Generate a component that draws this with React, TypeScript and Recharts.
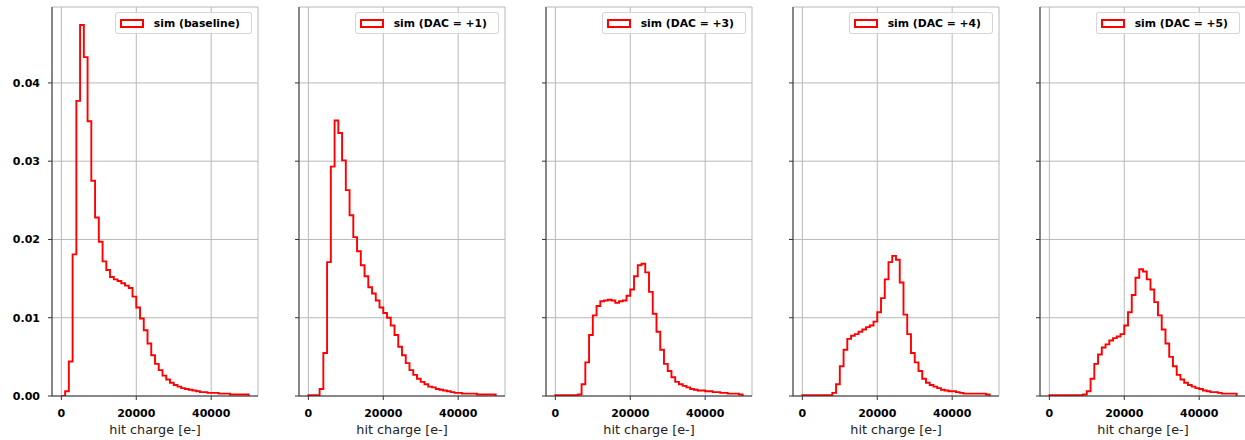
import { LineChart, Line, XAxis, YAxis, CartesianGrid, Legend, Label } from 'recharts';

// normalised hit-charge histograms, 1000 e- bins from 0 to 50000
const BIN_WIDTH = 1000;
const X_TICKS = [0, 20000, 40000];
const Y_TICKS = [0, 0.01, 0.02, 0.03, 0.04];
const LABELS = ['sim (baseline)', 'sim (DAC = +1)', 'sim (DAC = +3)', 'sim (DAC = +4)', 'sim (DAC = +5)'];

const baseline = [
  0.0000, 0.0006, 0.0044, 0.0181, 0.0377, 0.0474, 0.0433, 0.0351, 0.0275, 0.0228,
  0.0197, 0.0172, 0.0161, 0.0152, 0.0149, 0.0147, 0.0144, 0.0141, 0.0138, 0.0127,
  0.0113, 0.0099, 0.0084, 0.0067, 0.0052, 0.0041, 0.0033, 0.0026, 0.0021, 0.0017,
  0.0014, 0.0012, 0.0010, 0.0009, 0.0008, 0.0007, 0.0006, 0.0005, 0.0005, 0.0004,
  0.0004, 0.0004, 0.0003, 0.0003, 0.0003, 0.0002, 0.0002, 0.0002, 0.0002, 0.0002,
];
const dac1 = [
  0.0001, 0.0001, 0.0001, 0.0009, 0.0055, 0.0171, 0.0293, 0.0352, 0.0336, 0.0301,
  0.0263, 0.0231, 0.0203, 0.0185, 0.0167, 0.0153, 0.0139, 0.0131, 0.0122, 0.0113,
  0.0106, 0.0100, 0.0090, 0.0078, 0.0063, 0.0052, 0.0042, 0.0033, 0.0027, 0.0022,
  0.0018, 0.0015, 0.0012, 0.0011, 0.0009, 0.0008, 0.0007, 0.0006, 0.0005, 0.0004,
  0.0004, 0.0003, 0.0003, 0.0003, 0.0003, 0.0002, 0.0002, 0.0002, 0.0002, 0.0002,
];
const dac3 = [
  0.0001, 0.0001, 0.0001, 0.0001, 0.0001, 0.0001, 0.0002, 0.0015, 0.0043, 0.0078,
  0.0103, 0.0115, 0.0121, 0.0122, 0.0123, 0.0122, 0.0119, 0.0121, 0.0122, 0.0128,
  0.0136, 0.0153, 0.0167, 0.0169, 0.0158, 0.0133, 0.0105, 0.0082, 0.0059, 0.0041,
  0.0032, 0.0024, 0.0018, 0.0015, 0.0013, 0.0011, 0.0009, 0.0008, 0.0007, 0.0007,
  0.0006, 0.0006, 0.0005, 0.0005, 0.0004, 0.0004, 0.0003, 0.0003, 0.0003, 0.0002,
];
const dac4 = [
  0.0001, 0.0001, 0.0001, 0.0001, 0.0001, 0.0001, 0.0001, 0.0001, 0.0004, 0.0015,
  0.0038, 0.0059, 0.0073, 0.0077, 0.0079, 0.0082, 0.0085, 0.0088, 0.0090, 0.0095,
  0.0107, 0.0125, 0.0149, 0.0171, 0.0179, 0.0174, 0.0145, 0.0104, 0.0079, 0.0055,
  0.0043, 0.0032, 0.0022, 0.0017, 0.0014, 0.0012, 0.0010, 0.0008, 0.0007, 0.0006,
  0.0006, 0.0005, 0.0004, 0.0003, 0.0003, 0.0003, 0.0003, 0.0003, 0.0003, 0.0002,
];
const dac5 = [
  0.0001, 0.0001, 0.0001, 0.0001, 0.0001, 0.0001, 0.0001, 0.0001, 0.0001, 0.0002,
  0.0006, 0.0022, 0.0041, 0.0053, 0.0062, 0.0066, 0.0071, 0.0074, 0.0076, 0.0079,
  0.0090, 0.0107, 0.0129, 0.0151, 0.0162, 0.0159, 0.0149, 0.0136, 0.0120, 0.0103,
  0.0085, 0.0067, 0.0050, 0.0038, 0.0027, 0.0021, 0.0017, 0.0014, 0.0012, 0.0010,
  0.0009, 0.0007, 0.0006, 0.0005, 0.0005, 0.0004, 0.0003, 0.0003, 0.0003, 0.0003,
];

const SERIES = [baseline, dac1, dac3, dac4, dac5];

const FONT = '"DejaVu Sans", sans-serif';
const SPINE = '#333';
const X_DOMAIN: [number, number] = [-2500, 52500];
const Y_DOMAIN: [number, number] = [0, 0.0497];
const PANEL_LEFT = [52, 299, 546, 793, 1040];
const PLOT_W = 206;

// outline of a step histogram: up from zero at the first edge, down to zero at the last
function toSteps(values: number[]) {
  const pts = [{ x: 0, y: 0 }];
  values.forEach((v, i) => pts.push({ x: i * BIN_WIDTH, y: v }));
  const end = values.length * BIN_WIDTH;
  pts.push({ x: end, y: values[values.length - 1] });
  pts.push({ x: end, y: 0 });
  return pts;
}

function LegendBox({ label }: { label: string }) {
  return (
    <div
      style={{
        display: 'flex',
        alignItems: 'center',
        height: 20,
        padding: '0 11px 0 4px',
        border: '1px solid rgba(204,204,204,0.8)',
        borderRadius: 3,
        background: 'rgba(255,255,255,0.8)',
        fontFamily: FONT,
        fontSize: 10.8,
        fontWeight: 'bold',
        color: '#000',
        whiteSpace: 'nowrap',
      }}
    >
      <span
        style={{
          display: 'inline-block',
          width: 24,
          height: 9,
          border: '2px solid #ff0000',
          boxSizing: 'border-box',
          marginRight: 10,
        }}
      />
      <span>{label}</span>
    </div>
  );
}

function Panel({ values, label, left, first }: { values: number[]; label: string; left: number; first: boolean }) {
  const axisW = first ? 52 : 12;
  const tickStyle = { fill: '#000', fontSize: 11, fontWeight: 'bold', fontFamily: FONT };
  return (
    <div style={{ position: 'absolute', left: left - axisW, top: 0 }}>
      <LineChart
        width={axisW + PLOT_W + 1}
        height={440}
        data={toSteps(values)}
        margin={{ top: 7, right: 1, bottom: 0, left: 0 }}
      >
        <CartesianGrid stroke="#b8b8b8" strokeWidth={1} />
        <XAxis
          dataKey="x"
          type="number"
          domain={X_DOMAIN}
          ticks={X_TICKS}
          allowDataOverflow
          height={44}
          tickSize={4}
          tickMargin={9}
          tick={tickStyle}
          axisLine={{ stroke: SPINE }}
          tickLine={{ stroke: SPINE }}
        >
          <Label
            value="hit charge [e-]"
            position="insideBottom"
            offset={6}
            style={{ fontSize: 12.8, fontFamily: FONT, fill: '#222' }}
          />
        </XAxis>
        <XAxis
          xAxisId="top"
          orientation="top"
          type="number"
          domain={X_DOMAIN}
          height={0}
          tick={false}
          tickLine={false}
          axisLine={{ stroke: SPINE }}
        />
        <YAxis
          type="number"
          domain={Y_DOMAIN}
          ticks={Y_TICKS}
          allowDataOverflow
          width={axisW}
          tickSize={4}
          tickMargin={8}
          tick={tickStyle}
          tickFormatter={(v: number) => (first ? v.toFixed(2) : '')}
          axisLine={{ stroke: SPINE }}
          tickLine={{ stroke: SPINE }}
        />
        <YAxis
          yAxisId="right"
          orientation="right"
          type="number"
          domain={Y_DOMAIN}
          width={0}
          tick={false}
          tickLine={false}
          axisLine={{ stroke: SPINE }}
        />
        <Line
          type="stepAfter"
          dataKey="y"
          stroke="#ff0000"
          strokeWidth={1.9}
          dot={false}
          activeDot={false}
          isAnimationActive={false}
        />
        <Legend
          layout="horizontal"
          verticalAlign="middle"
          align="center"
          wrapperStyle={{ top: 12, right: 7, width: 'auto' }}
          content={() => <LegendBox label={label} />}
        />
      </LineChart>
    </div>
  );
}

export default function App() {
  return (
    <div
      style={{
        position: 'absolute',
        left: 0,
        top: 0,
        width: 1245,
        height: 440,
        overflow: 'hidden',
        background: '#fff',
      }}
    >
      {SERIES.map((values, i) => (
        <Panel key={LABELS[i]} values={values} label={LABELS[i]} left={PANEL_LEFT[i]} first={i === 0} />
      ))}
    </div>
  );
}
